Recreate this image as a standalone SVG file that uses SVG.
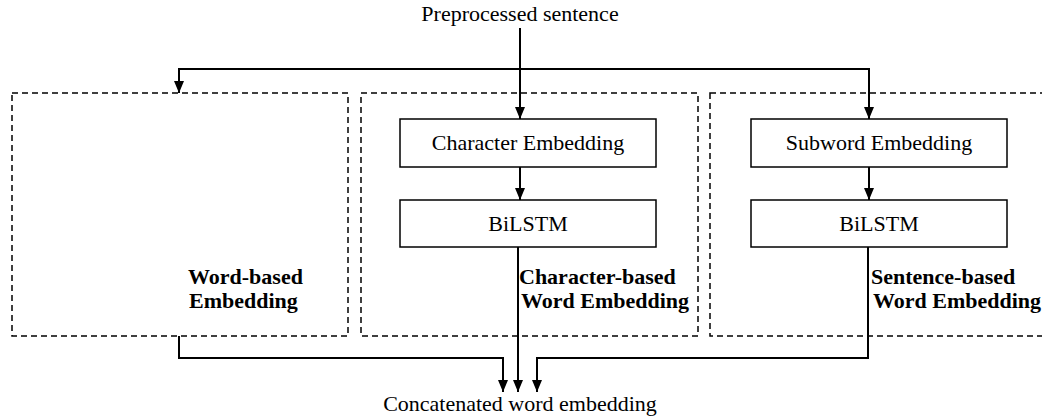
<svg xmlns="http://www.w3.org/2000/svg" width="1042" height="420" viewBox="0 0 1042 420">
  <style>
    .region { fill: none; stroke: #000; stroke-width: 1.5; stroke-dasharray: 6 4; }
    .box { fill: #fff; stroke: #000; stroke-width: 1.5; }
    .label { font-family: "Liberation Serif", "Times New Roman", serif; font-size: 22px; fill: #000; }
    .bold { font-family: "Liberation Serif", "Times New Roman", serif; font-size: 22px; font-weight: bold; fill: #000; }
    .wire { fill: none; stroke: #000; stroke-width: 2; }
  </style>
  <defs>
    <marker id="arrow" markerWidth="10" markerHeight="13" refX="12" refY="5" orient="auto" markerUnits="userSpaceOnUse">
      <path d="M0,0 L12,5 L0,10 z" fill="#000"/>
    </marker>
  </defs>
  <rect width="1042" height="420" fill="#fff"/>

  <!-- dashed regions -->
  <g id="word-based">
    <rect class="region" x="12" y="93" width="336" height="243"/>
    <text class="bold" x="188" y="284">Word-based</text>
    <text class="bold" x="189" y="308">Embedding</text>
  </g>
  <g id="character-based">
    <rect class="region" x="361" y="93" width="337" height="243"/>
    <text class="bold" x="519" y="284">Character-based</text>
    <text class="bold" x="521" y="308">Word Embedding</text>
  </g>
  <g id="sentence-based">
    <rect class="region" x="710" y="93" width="340" height="243"/>
    <text class="bold" x="871" y="284">Sentence-based</text>
    <text class="bold" x="873" y="308">Word Embedding</text>
  </g>

  <!-- processing blocks -->
  <g id="char-embedding">
    <rect class="box" x="400" y="119" width="256" height="48"/>
    <text class="label" x="528" y="150" text-anchor="middle">Character Embedding</text>
  </g>
  <g id="char-bilstm">
    <rect class="box" x="400" y="200" width="256" height="47"/>
    <text class="label" x="528" y="231" text-anchor="middle">BiLSTM</text>
  </g>
  <g id="subword-embedding">
    <rect class="box" x="751" y="119" width="256" height="48"/>
    <text class="label" x="879" y="150" text-anchor="middle">Subword Embedding</text>
  </g>
  <g id="subword-bilstm">
    <rect class="box" x="751" y="200" width="256" height="47"/>
    <text class="label" x="879" y="231" text-anchor="middle">BiLSTM</text>
  </g>

  <!-- input / output labels -->
  <g id="input">
    <text class="label" x="520" y="21" text-anchor="middle">Preprocessed sentence</text>
  </g>
  <g id="output">
    <text class="label" x="520" y="411" text-anchor="middle">Concatenated word embedding</text>
  </g>

  <!-- connectors -->
  <g id="connectors">
    <path class="wire" d="M520,28 V119" marker-end="url(#arrow)"/>
    <path class="wire" d="M520,69 H179 V93" marker-end="url(#arrow)"/>
    <path class="wire" d="M520,69 H869 V119" marker-end="url(#arrow)"/>
    <path class="wire" d="M520,167 V200" marker-end="url(#arrow)"/>
    <path class="wire" d="M869,167 V200" marker-end="url(#arrow)"/>
    <path class="wire" d="M179,336 V358 H503 V392" marker-end="url(#arrow)"/>
    <path class="wire" d="M518,247 V392" marker-end="url(#arrow)"/>
    <path class="wire" d="M868,247 V358 H537 V392" marker-end="url(#arrow)"/>
  </g>
</svg>
